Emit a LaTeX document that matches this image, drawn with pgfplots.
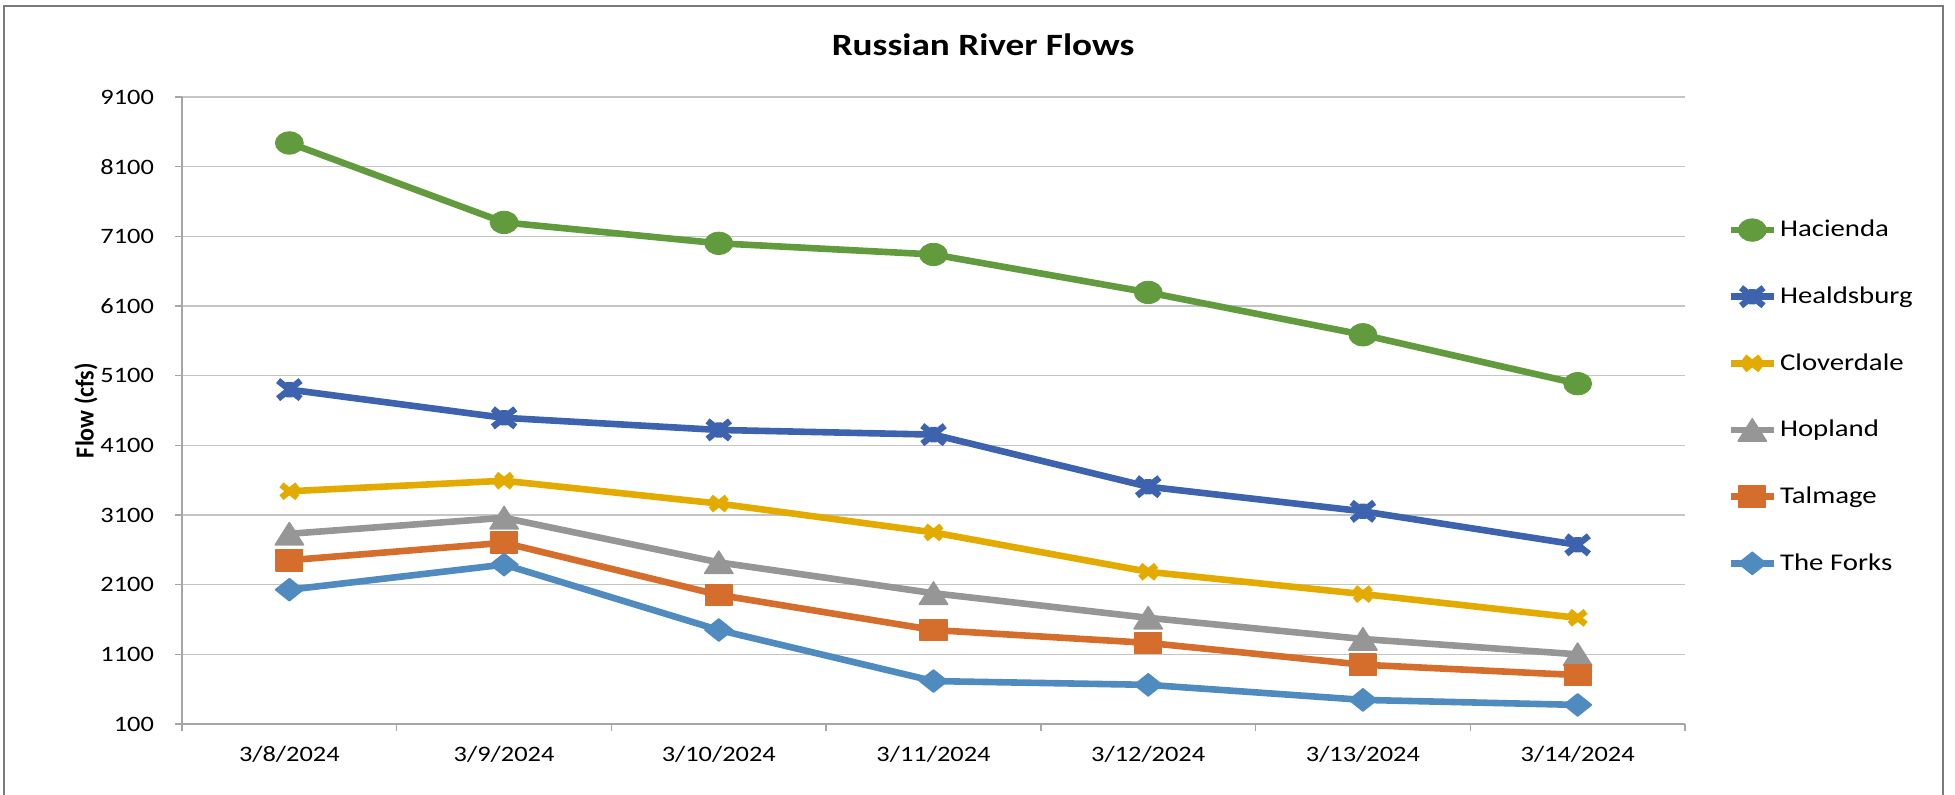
\documentclass[border=0pt]{standalone}
\usepackage{fontspec}
\setmainfont{Carlito}[FakeStretch=1.2]
\newfontfamily\ylabfont{Carlito}
\usepackage{pgfplots}
\pgfplotsset{compat=1.18}
\usepackage{pgfplotstable}

\definecolor{cHac}{HTML}{629A3E}
\definecolor{cHea}{HTML}{3D63AE}
\definecolor{cClo}{HTML}{E3AB00}
\definecolor{cHop}{HTML}{969696}
\definecolor{cTal}{HTML}{D56E2C}
\definecolor{cFor}{HTML}{4F8BBF}
\definecolor{gridgray}{HTML}{C4C4C4}
\definecolor{axisgray}{HTML}{A6A6A6}
\definecolor{framegray}{HTML}{7A7A7A}

\pgfdeclareplotmark{xstar}{%
  \pgfpathmoveto{\pgfqpoint{-\pgfplotmarksize}{-\pgfplotmarksize}}%
  \pgfpathlineto{\pgfqpoint{\pgfplotmarksize}{\pgfplotmarksize}}%
  \pgfpathmoveto{\pgfqpoint{-\pgfplotmarksize}{\pgfplotmarksize}}%
  \pgfpathlineto{\pgfqpoint{\pgfplotmarksize}{-\pgfplotmarksize}}%
  \pgfpathmoveto{\pgfqpoint{0pt}{-0.85\pgfplotmarksize}}%
  \pgfpathlineto{\pgfqpoint{0pt}{0.85\pgfplotmarksize}}%
  \pgfusepathqstroke
}

\pgfplotstableread{
x Hacienda Healdsburg Cloverdale Hopland Talmage Forks
0 8440 4900 3441 2830 2451 2028
1 7300 4495 3592 3060 2701 2388
2 7000 4321 3264 2420 1953 1449
3 6840 4254 2850 1977 1449 716
4 6295 3506 2285 1624 1264 662
5 5687 3153 1965 1320 951 446
6 4985 2672 1624 1100 802 374
}\flows

\begin{document}
\begin{tikzpicture}
\path[use as bounding box] (0,0) rectangle (977.5pt,397pt);
\draw[framegray, line width=1pt] (2pt,-10pt) rectangle (971.5pt,394pt);
\begin{axis}[
  at={(91pt,35pt)}, anchor=south west, scale only axis,
  width=751.5pt, height=313.5pt,
  xmin=-0.5, xmax=6.5, ymin=100, ymax=9100,
  xtick={-0.5,0.5,1.5,2.5,3.5,4.5,5.5,6.5},
  x tick label as interval,
  xticklabels={3/8/2024,3/9/2024,3/10/2024,3/11/2024,3/12/2024,3/13/2024,3/14/2024,{}},
  ytick={100,1100,2100,3100,4100,5100,6100,7100,8100,9100},
  ymajorgrids, grid style={gridgray, line width=0.75pt},
  axis x line*=bottom, axis y line*=left,
  axis line style={axisgray, line width=0.75pt, -},
  tick align=outside, major tick length=3.3pt,
  tick style={axisgray, line width=0.75pt},
  /pgf/number format/assume math mode=true,
  /pgf/number format/set thousands separator={},
  tick label style={font=\fontsize{11pt}{13pt}\selectfont, text=black},
  xticklabel style={anchor=center, yshift=-12pt},
  yticklabel style={anchor=east, inner sep=0pt, xshift=-10.5pt},
  title={Russian River Flows},
  title style={at={(axis description cs:0.533,1.064)}, anchor=center, font=\fontsize{15.5pt}{18pt}\selectfont\bfseries},
  legend style={at={(axis description cs:1.028,0.522)}, anchor=west, draw=none, fill=none, inner sep=0pt,
    row sep=20.5pt, font=\fontsize{12pt}{14pt}\selectfont,
    nodes={inner sep=1.5pt}},
  legend cell align=left,
  legend image code/.code={\draw[mark repeat=2,mark phase=2,#1] plot coordinates {(0pt,0pt) (10.75pt,0pt) (21.5pt,0pt)};},
  every axis plot/.append style={line width=3.3pt, line join=round},
]
\addplot[cHac, mark=*, mark size=5.6pt, mark options={solid, fill=cHac, draw=cHac, line width=0.4pt, xscale=1.25}] table[x=x, y=Hacienda] {\flows};
\addlegendentry{Hacienda}
\addplot[cHea, mark=xstar, mark size=4.5pt, mark options={solid, draw=cHea, line width=3.2pt, xscale=1.25}] table[x=x, y=Healdsburg] {\flows};
\addlegendentry{Healdsburg}
\addplot[cClo, mark=x, mark size=4.5pt, mark options={solid, draw=cClo, line width=3.2pt, xscale=1.25}] table[x=x, y=Cloverdale] {\flows};
\addlegendentry{Cloverdale}
\addplot[cHop, mark=triangle*, mark size=7.4pt, mark options={solid, fill=cHop, draw=cHop, line width=0.8pt, xscale=1.1, yshift=-1.8pt}] table[x=x, y=Hopland] {\flows};
\addlegendentry{Hopland}
\addplot[cTal, mark=square*, mark size=5.3pt, mark options={solid, fill=cTal, draw=cTal, line width=0.8pt, xscale=1.25}] table[x=x, y=Talmage] {\flows};
\addlegendentry{Talmage}
\addplot[cFor, mark=square*, mark size=3.9pt, mark options={solid, fill=cFor, draw=cFor, line width=0.8pt, xscale=1.25, rotate=45}] table[x=x, y=Forks] {\flows};
\addlegendentry{The Forks}
\end{axis}
\node[rotate=90, anchor=center, inner sep=0pt, font=\ylabfont\bfseries\fontsize{12pt}{14pt}\selectfont, yscale=1.08] at (43pt,191.75pt) {Flow (cfs)};
\end{tikzpicture}
\end{document}
